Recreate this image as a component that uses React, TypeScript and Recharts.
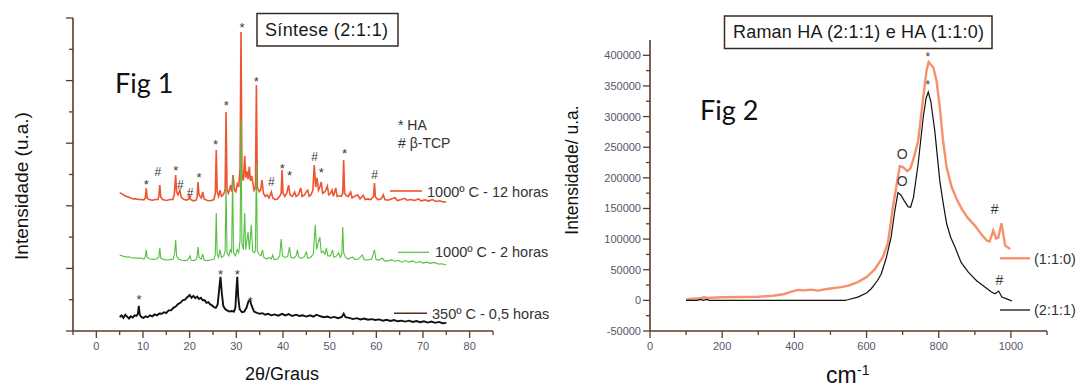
import React from 'react';
import { ComposedChart, Line, XAxis, YAxis, ReferenceDot } from 'recharts';

const FONT = '"Liberation Sans", Arial, Helvetica, sans-serif';
const FIGFONT = 'Lato, "Open Sans", sans-serif';
const AXIS = '#5e3a2c';
const TICKTXT = '#55556a';
const RED = '#f0532f';
const GREEN = '#55c040';
const BLACK = '#111111';
const ORANGE = '#f7906c';

// ---------- Fig 1 : XRD (2θ / graus vs intensity, offset traces) ----------
const xrd350: [number, number][] = [
  [5.0, 0.45], [5.4, 0.5], [5.8, 0.42], [6.2, 0.52], [6.6, 0.46], [7.0, 0.4], [7.4, 0.47], [7.8, 0.43],
  [8.2, 0.5], [8.6, 0.48], [8.9, 0.55], [9.1, 0.8], [9.3, 0.52], [9.7, 0.44], [10.1, 0.42], [10.6, 0.47],
  [11.0, 0.44], [11.5, 0.5], [12.0, 0.47], [12.5, 0.53], [13.0, 0.5], [13.5, 0.56], [14.0, 0.55], [14.5, 0.6],
  [15.0, 0.58], [15.5, 0.66], [16.0, 0.66], [16.5, 0.74], [17.0, 0.78], [17.5, 0.86], [18.0, 0.9], [18.5, 0.98],
  [19.0, 1.0], [19.5, 1.08], [20.0, 1.15], [20.4, 1.06], [20.8, 1.12], [21.2, 1.05], [21.6, 1.1], [22.0, 1.02],
  [22.4, 1.06], [22.8, 0.98], [23.2, 0.99], [23.6, 0.9], [24.0, 0.92], [24.4, 0.85], [24.8, 0.82], [25.2, 0.76],
  [25.6, 0.74], [26.0, 0.85], [26.3, 1.3], [26.6, 1.73], [26.9, 1.2], [27.2, 0.8], [27.6, 0.7], [28.0, 0.66],
  [28.5, 0.62], [29.0, 0.64], [29.5, 0.62], [29.8, 0.75], [30.0, 1.3], [30.2, 1.73], [30.4, 1.1], [30.7, 0.7],
  [31.2, 0.6], [31.7, 0.62], [32.2, 0.75], [32.6, 0.95], [32.9, 0.99], [33.3, 0.8], [33.8, 0.62], [34.4, 0.58],
  [35.0, 0.55], [35.6, 0.57], [36.2, 0.52], [36.8, 0.55], [37.5, 0.5], [38.2, 0.53], [39.0, 0.49], [39.8, 0.55],
  [40.5, 0.5], [41.2, 0.54], [42.0, 0.48], [42.8, 0.52], [43.5, 0.48], [44.2, 0.5], [45.0, 0.46], [45.8, 0.5],
  [46.5, 0.46], [47.2, 0.52], [48.0, 0.47], [48.8, 0.44], [49.5, 0.46], [50.2, 0.42], [51.0, 0.45], [51.8, 0.41],
  [52.6, 0.45], [53.0, 0.55], [53.4, 0.44], [54.2, 0.42], [55.0, 0.38], [55.8, 0.41], [56.6, 0.37], [57.4, 0.4],
  [58.2, 0.36], [59.0, 0.38], [59.8, 0.35], [60.6, 0.37], [61.4, 0.33], [62.2, 0.36], [63.0, 0.32], [63.8, 0.35],
  [64.6, 0.31], [65.4, 0.33], [66.2, 0.3], [67.0, 0.33], [67.8, 0.29], [68.6, 0.32], [69.4, 0.28], [70.2, 0.31],
  [71.0, 0.27], [71.8, 0.3], [72.6, 0.26], [73.4, 0.29], [74.2, 0.25], [75.0, 0.26],
];

const xrd1000h2: [number, number][] = [
  [5.0, 2.43], [5.5, 2.4], [6.0, 2.38], [6.5, 2.36], [7.0, 2.37], [7.5, 2.34], [8.0, 2.33], [8.5, 2.34],
  [9.0, 2.32], [9.5, 2.33], [10.2, 2.3], [10.5, 2.38], [10.7, 2.59], [10.9, 2.35], [11.5, 2.3], [12.2, 2.29],
  [12.8, 2.3], [13.4, 2.36], [13.6, 2.65], [13.8, 2.33], [14.5, 2.28], [15.2, 2.27], [15.8, 2.28], [16.5, 2.3],
  [16.8, 2.5], [17.0, 2.91], [17.2, 2.4], [17.6, 2.3], [18.3, 2.26], [19.0, 2.25], [19.6, 2.27], [20.1, 2.4],
  [20.3, 2.26], [21.0, 2.25], [21.5, 2.3], [21.8, 2.68], [22.0, 2.35], [22.5, 2.3], [22.8, 2.46], [23.1, 2.27],
  [23.8, 2.25], [24.5, 2.27], [25.2, 2.3], [25.5, 2.45], [25.7, 3.77], [25.9, 2.45], [26.2, 2.35], [26.5, 2.6],
  [26.8, 2.35], [27.3, 2.4], [27.6, 2.55], [27.8, 4.6], [28.0, 2.5], [28.4, 2.4], [28.7, 2.6], [29.0, 2.5],
  [29.2, 4.98], [29.4, 2.5], [29.8, 2.4], [30.2, 2.6], [30.5, 2.5], [30.8, 2.9], [31.0, 6.8], [31.2, 2.8],
  [31.5, 2.6], [31.8, 3.77], [32.0, 2.6], [32.5, 3.16], [32.8, 2.6], [33.2, 3.39], [33.5, 2.55], [33.9, 2.5],
  [34.1, 2.6], [34.3, 5.37], [34.5, 2.55], [34.9, 2.45], [35.3, 2.4], [35.6, 2.59], [35.9, 2.35], [36.5, 2.3],
  [37.0, 2.35], [37.5, 2.3], [37.8, 2.43], [38.1, 2.28], [38.8, 2.3], [39.3, 2.4], [39.6, 2.94], [39.9, 2.4],
  [40.4, 2.35], [41.0, 2.38], [41.4, 2.68], [41.7, 2.35], [42.3, 2.33], [42.8, 2.4], [43.1, 2.59], [43.4, 2.35],
  [44.0, 2.32], [44.6, 2.38], [45.0, 2.52], [45.3, 2.33], [45.9, 2.35], [46.5, 2.45], [46.9, 3.39], [47.2, 2.6],
  [47.5, 2.8], [47.9, 3.0], [48.2, 2.5], [48.6, 2.55], [49.0, 2.45], [49.3, 2.65], [49.6, 2.4], [50.2, 2.4],
  [50.6, 2.59], [50.9, 2.35], [51.5, 2.4], [51.9, 2.5], [52.3, 2.35], [52.6, 2.45], [52.8, 3.32], [53.0, 2.5],
  [53.4, 2.35], [54.0, 2.3], [54.6, 2.35], [55.0, 2.36], [55.4, 2.28], [56.2, 2.3], [57.0, 2.43], [57.4, 2.28],
  [58.2, 2.27], [59.0, 2.3], [59.6, 2.59], [59.9, 2.3], [60.5, 2.26], [61.3, 2.33], [61.7, 2.24], [62.5, 2.24],
  [63.3, 2.28], [64.0, 2.22], [64.7, 2.26], [65.4, 2.2], [66.2, 2.25], [67.0, 2.2], [67.8, 2.24], [68.5, 2.18],
  [69.3, 2.22], [70.0, 2.17], [70.8, 2.2], [71.6, 2.16], [72.4, 2.19], [73.2, 2.14], [74.0, 2.15], [75.0, 2.11],
];

const xrd1000h12: [number, number][] = [
  [5.0, 4.42], [5.5, 4.38], [6.0, 4.33], [6.5, 4.3], [7.0, 4.27], [7.5, 4.24], [8.0, 4.22], [8.5, 4.22],
  [9.0, 4.2], [9.5, 4.2], [10.2, 4.19], [10.5, 4.25], [10.7, 4.57], [10.9, 4.24], [11.3, 4.2], [12.0, 4.18],
  [12.6, 4.2], [13.2, 4.2], [13.4, 4.3], [13.6, 4.66], [13.8, 4.28], [14.2, 4.2], [15.0, 4.17], [15.8, 4.2],
  [16.4, 4.2], [16.7, 4.35], [17.0, 4.98], [17.2, 4.45], [17.5, 4.35], [17.9, 4.5], [18.2, 4.27], [18.8, 4.2],
  [19.4, 4.18], [19.8, 4.22], [20.0, 4.31], [20.2, 4.2], [20.8, 4.16], [21.4, 4.18], [21.6, 4.3], [21.8, 4.76],
  [22.0, 4.35], [22.5, 4.25], [22.8, 4.44], [23.1, 4.22], [23.8, 4.17], [24.5, 4.16], [25.2, 4.2], [25.5, 4.4],
  [25.7, 5.78], [25.9, 4.45], [26.2, 4.3], [26.5, 4.5], [26.8, 4.3], [27.2, 4.35], [27.6, 4.5], [27.8, 7.0],
  [28.0, 4.5], [28.3, 4.4], [28.8, 4.66], [29.0, 4.45], [29.3, 4.98], [29.6, 4.5], [29.9, 4.45], [30.2, 4.7],
  [30.5, 4.6], [30.8, 5.2], [31.0, 9.55], [31.2, 5.0], [31.5, 4.8], [31.8, 5.6], [32.0, 4.9], [32.3, 5.1],
  [32.5, 4.85], [32.8, 5.25], [33.0, 4.8], [33.3, 4.95], [33.8, 4.5], [34.1, 4.6], [34.3, 7.86], [34.5, 4.6],
  [34.9, 4.45], [35.2, 4.5], [35.5, 4.82], [35.8, 4.4], [36.2, 4.3], [36.6, 4.35], [37.0, 4.25], [37.5, 4.44],
  [37.8, 4.25], [38.3, 4.2], [38.8, 4.22], [39.3, 4.3], [39.6, 4.4], [39.8, 5.14], [40.0, 4.4], [40.4, 4.3],
  [40.8, 4.4], [41.2, 4.66], [41.5, 4.35], [42.0, 4.3], [42.5, 4.44], [42.8, 4.3], [43.3, 4.35], [43.8, 4.57],
  [44.1, 4.3], [44.6, 4.35], [45.0, 4.45], [45.3, 4.5], [45.6, 4.3], [46.0, 4.35], [46.4, 4.5], [46.7, 5.3],
  [47.0, 4.6], [47.3, 4.89], [47.6, 4.5], [47.9, 4.6], [48.2, 4.76], [48.5, 4.4], [49.0, 4.45], [49.5, 4.63],
  [49.8, 4.35], [50.2, 4.4], [50.5, 4.5], [50.8, 4.3], [51.3, 4.57], [51.6, 4.3], [52.0, 4.32], [52.5, 4.3],
  [52.8, 4.4], [53.0, 5.46], [53.2, 4.4], [53.6, 4.32], [54.0, 4.3], [54.5, 4.44], [54.8, 4.25], [55.3, 4.3],
  [56.0, 4.35], [56.5, 4.22], [57.2, 4.33], [57.6, 4.2], [58.2, 4.22], [58.8, 4.2], [59.4, 4.3], [59.6, 4.73],
  [59.8, 4.28], [60.3, 4.2], [61.0, 4.22], [61.5, 4.35], [61.8, 4.2], [62.5, 4.18], [63.2, 4.22], [64.0, 4.26],
  [64.5, 4.17], [65.3, 4.2], [66.0, 4.24], [66.6, 4.18], [67.4, 4.2], [68.2, 4.17], [69.0, 4.22], [69.6, 4.16],
  [70.4, 4.19], [71.2, 4.15], [72.0, 4.2], [72.8, 4.14], [73.6, 4.16], [74.3, 4.12], [75.0, 4.12],
];

// phase marks: * = HA, # = β-TCP  (x in 2θ, y = visual centre in intensity units)
const xrdMarks: { x: number; y: number; s: string }[] = [
  { x: 10.7, y: 4.77, s: '*' }, { x: 13.2, y: 5.09, s: '#' }, { x: 17.0, y: 5.2, s: '*' },
  { x: 18.0, y: 4.66, s: '#' }, { x: 20.1, y: 4.42, s: '#' }, { x: 22.0, y: 4.98, s: '*' },
  { x: 25.56, y: 6.05, s: '*' }, { x: 27.86, y: 7.29, s: '*' }, { x: 31.2, y: 9.78, s: '*' },
  { x: 34.28, y: 8.04, s: '*' }, { x: 37.5, y: 4.77, s: '#' }, { x: 39.85, y: 5.27, s: '*' },
  { x: 41.42, y: 5.04, s: '*' }, { x: 46.78, y: 5.57, s: '#' }, { x: 48.2, y: 5.14, s: '*' },
  { x: 53.2, y: 5.76, s: '*' }, { x: 59.63, y: 4.98, s: '#' },
  { x: 9.13, y: 1.1, s: '*' }, { x: 26.63, y: 1.89, s: '*' }, { x: 30.21, y: 1.89, s: '*' },
  { x: 33.0, y: 1.04, s: '*' },
];

const xrdXTicks = [-5, 0, 5, 10, 15, 20, 25, 30, 35, 40, 45, 50, 55, 60, 65, 70, 75, 80, 85];
const xrdYTicks = [0, 1, 2, 3, 4, 5, 6, 7, 8, 9, 10];

// ---------- Fig 2 : Raman ----------
const raman110: [number, number][] = [
  [100, 1000], [110, 2500], [140, 3500], [150, 5000], [160, 4000], [200, 5000], [250, 5500], [300, 6000],
  [340, 7500], [370, 10000], [390, 14000], [410, 17000], [427, 16300], [445, 17500], [465, 16000], [490, 18500],
  [529, 21700], [550, 24000], [576, 29800], [600, 38000], [622, 50000], [645, 70500], [659, 92800], [673, 152000],
  [692, 219000], [700, 218000], [713, 211000], [722, 216000], [732, 235000], [743, 260600], [757, 331000],
  [766, 374600], [772, 389000], [785, 380000], [794, 358000], [803, 315000], [812, 260600], [822, 217000],
  [836, 184500], [850, 165000], [864, 149000], [880, 135000], [900, 122000], [918, 108000], [933, 97700],
  [941, 96000], [951, 114000], [959, 101000], [965, 102000], [974, 126000], [984, 89600], [998, 84000],
];

const raman211: [number, number][] = [
  [100, 0], [130, 0], [140, 1500], [148, 0], [156, 1500], [165, 0], [300, 0], [540, 0], [548, 1000],
  [576, 5400], [600, 12000], [613, 19000], [630, 32000], [641, 43500], [655, 70000], [668, 103000],
  [678, 145000], [687, 176000], [695, 172000], [705, 162000], [715, 153000], [722, 152000], [730, 168000],
  [743, 223000], [757, 298500], [765, 330000], [771, 340000], [778, 325000], [789, 277000], [803, 195000],
  [812, 160000], [822, 125000], [833, 103000], [845, 87000], [862, 62000], [882, 46000], [905, 32000],
  [928, 21700], [945, 14000], [956, 10900], [966, 15200], [975, 5400], [990, 2000], [1003, -1000],
];

// * = HA, O = other phase, # = β-TCP
const ramanMarks: { x: number; y: number; s: string }[] = [
  { x: 770, y: 402000, s: '*' }, { x: 770, y: 355000, s: '*' },
  { x: 699, y: 239000, s: 'O' }, { x: 699, y: 195000, s: 'O' },
  { x: 955, y: 149000, s: '#' }, { x: 968, y: 32600, s: '#' },
];

const ramanXTicks = [0, 100, 200, 300, 400, 500, 600, 700, 800, 900, 1000, 1100];
const ramanYTicks = [-50000, -25000, 0, 25000, 50000, 75000, 100000, 125000, 150000, 175000, 200000,
  225000, 250000, 275000, 300000, 325000, 350000, 375000, 400000];

const pts = (a: [number, number][]) => a.map(([x, y]) => ({ x, y }));

const markDy = (s: string, fs: number) => (s === '*' ? fs * 0.55 : fs * 0.36);

const makeXTick = (isMajor: (v: number) => boolean, hasLabel: (v: number) => boolean) => (props: any) => {
  const { x, y, payload } = props;
  const v = payload.value;
  const major = isMajor(v);
  return (
    <g>
      <line x1={x} y1={y} x2={x} y2={y + (major ? 7 : 4)} stroke={AXIS} strokeWidth={1.3} />
      {hasLabel(v) && (
        <text x={x} y={y + 19} textAnchor="middle" fontFamily={FONT} fontSize={11} fill={TICKTXT}>
          {v}
        </text>
      )}
    </g>
  );
};

const makeYTick = (isMajor: (v: number) => boolean, hasLabel: (v: number) => boolean) => (props: any) => {
  const { x, y, payload } = props;
  const v = payload.value;
  const major = isMajor(v);
  return (
    <g>
      <line x1={x} y1={y} x2={x - (major ? 7 : 4)} y2={y} stroke={AXIS} strokeWidth={1.3} />
      {hasLabel(v) && (
        <text x={x - 9} y={y + 4} textAnchor="end" fontFamily={FONT} fontSize={11} fill={TICKTXT}>
          {v}
        </text>
      )}
    </g>
  );
};

const XTick1 = makeXTick((v) => v % 10 === 0, (v) => v % 10 === 0 && v >= 0 && v <= 80);
const YTick1 = makeYTick((v) => v % 2 === 0, () => false);
const XTick2 = makeXTick((v) => v % 200 === 0, (v) => v % 200 === 0 && v <= 1000);
const YTick2 = makeYTick((v) => v % 50000 === 0, (v) => v % 50000 === 0);

export default function App() {
  return (
    <div style={{ position: 'absolute', left: 0, top: 0, width: 1077, height: 387, background: '#fff', overflow: 'hidden' }}>
      <div style={{ position: 'absolute', left: 0, top: 0 }}>
        <ComposedChart width={560} height={387} margin={{ top: 18, right: 67, bottom: 16, left: 53 }}>
          <XAxis
            type="number"
            dataKey="x"
            domain={[-5, 85]}
            ticks={xrdXTicks}
            interval={0}
            allowDataOverflow
            height={40}
            tickSize={0}
            tickMargin={0}
            tickLine={false}
            axisLine={{ stroke: AXIS, strokeWidth: 1.6 }}
            tick={XTick1}
          />
          <YAxis
            type="number"
            dataKey="y"
            domain={[0, 10]}
            ticks={xrdYTicks}
            interval={0}
            allowDataOverflow
            width={20}
            tickSize={0}
            tickMargin={0}
            tickLine={false}
            axisLine={{ stroke: AXIS, strokeWidth: 1.6 }}
            tick={YTick1}
          />
          <Line data={pts(xrd350)} dataKey="y" type="linear" stroke={BLACK} strokeWidth={1.9} dot={false} isAnimationActive={false} />
          <Line data={pts(xrd1000h12)} dataKey="y" type="linear" stroke={RED} strokeWidth={1.6} dot={false} isAnimationActive={false} />
          <Line data={pts(xrd1000h2)} dataKey="y" type="linear" stroke={GREEN} strokeWidth={1.1} dot={false} isAnimationActive={false} />
          {xrdMarks.map((m, i) => (
            <ReferenceDot
              key={'m1' + i}
              x={m.x}
              y={m.y}
              r={0}
              shape={(p: any) => (
                <text x={p.cx} y={p.cy + markDy(m.s, m.s === '*' ? 13 : 12)} textAnchor="middle" fontFamily={FONT}
                  fontSize={m.s === '*' ? 13 : 12} fill="#3a3a3a">{m.s}</text>
              )}
            />
          ))}
        </ComposedChart>
      </div>
      <div style={{ position: 'absolute', left: 560, top: 0 }}>
        <ComposedChart width={517} height={387} margin={{ top: 40, right: 30, bottom: 16, left: 30 }}>
          <XAxis
            type="number"
            dataKey="x"
            domain={[0, 1100]}
            ticks={ramanXTicks}
            interval={0}
            allowDataOverflow
            height={40}
            tickSize={0}
            tickMargin={0}
            tickLine={false}
            axisLine={{ stroke: AXIS, strokeWidth: 1.6 }}
            tick={XTick2}
          />
          <YAxis
            type="number"
            dataKey="y"
            domain={[-50000, 425000]}
            ticks={ramanYTicks}
            interval={0}
            allowDataOverflow
            width={60}
            tickSize={0}
            tickMargin={0}
            tickLine={false}
            axisLine={{ stroke: AXIS, strokeWidth: 1.6 }}
            tick={YTick2}
          />
          <Line data={pts(raman110)} dataKey="y" type="linear" stroke={ORANGE} strokeWidth={2.4} dot={false} isAnimationActive={false} />
          <Line data={pts(raman211)} dataKey="y" type="linear" stroke={BLACK} strokeWidth={1.2} dot={false} isAnimationActive={false} />
          {ramanMarks.map((m, i) => (
            <ReferenceDot
              key={'m2' + i}
              x={m.x}
              y={m.y}
              r={0}
              shape={(p: any) => (
                <text x={p.cx} y={p.cy + markDy(m.s, m.s === '*' ? 12 : 14)} textAnchor="middle" fontFamily={FONT}
                  fontSize={m.s === '*' ? 12 : 14} fill="#3a3a3a">{m.s}</text>
              )}
            />
          ))}
        </ComposedChart>
      </div>
      <svg width={1077} height={387} style={{ position: 'absolute', left: 0, top: 0, pointerEvents: 'none' }}>
        {/* Fig 1 annotations */}
        <rect x={257} y={13.5} width={141} height={32.5} fill="#fff" stroke="#3a2a24" strokeWidth={1.5} />
        <text x={265} y={36} fontFamily={FONT} fontSize={18} fill="#1a1a1a" textLength={123} lengthAdjust="spacing">Síntese (2:1:1)</text>
        <text x={115} y={93} fontFamily={FIGFONT} fontSize={27} fill="#111">Fig 1</text>
        <text x={398} y={130} fontFamily={FONT} fontSize={14} fill="#333">* HA</text>
        <text x={398} y={148} fontFamily={FONT} fontSize={14} fill="#333"># β-TCP</text>
        <line x1={390} y1={191} x2={422} y2={191} stroke={RED} strokeWidth={1.6} />
        <text x={427} y={196.5} fontFamily={FONT} fontSize={14.5} fill="#333">1000º C - 12 horas</text>
        <line x1={398} y1={252.3} x2={429} y2={252.3} stroke={GREEN} strokeWidth={1.2} />
        <text x={435} y={257} fontFamily={FONT} fontSize={14.5} fill="#333">1000º C - 2 horas</text>
        <line x1={394} y1={313.3} x2={427} y2={313.3} stroke="#5a2a1c" strokeWidth={1.6} />
        <text x={432} y={318.5} fontFamily={FONT} fontSize={14.5} fill="#333">350º C - 0,5 horas</text>
        <text x={282} y={380} textAnchor="middle" fontFamily={FONT} fontSize={18} fill="#111">2θ/Graus</text>
        <text transform="translate(28,186) rotate(-90)" textAnchor="middle" fontFamily={FONT} fontSize={19} fill="#111">Intensidade (u.a.)</text>

        {/* Fig 2 annotations */}
        <rect x={724.5} y={16} width={267.5} height={32.5} fill="#fff" stroke="#3a2a24" strokeWidth={1.5} />
        <text x={733} y={38} fontFamily={FONT} fontSize={18} fill="#1a1a1a" textLength={251} lengthAdjust="spacing">Raman HA (2:1:1) e HA (1:1:0)</text>
        <text x={700} y={120} fontFamily={FIGFONT} fontSize={27} fill="#111">Fig 2</text>
        <line x1={1000} y1={258.3} x2={1030} y2={258.3} stroke={ORANGE} strokeWidth={2.4} />
        <text x={1034} y={263.5} fontFamily={FONT} fontSize={14.5} fill="#333">(1:1:0)</text>
        <line x1={1000} y1={310} x2={1030} y2={310} stroke={BLACK} strokeWidth={1.3} />
        <text x={1034} y={315} fontFamily={FONT} fontSize={14.5} fill="#333">(2:1:1)</text>
        <text transform="translate(578,170) rotate(-90)" textAnchor="middle" fontFamily={FONT} fontSize={17.5} fill="#111">Intensidade/ u.a.</text>
        <text x={826} y={383} fontFamily={FONT} fontSize={23} fill="#111">cm</text>
        <text x={857} y={375} fontFamily={FONT} fontSize={14} fill="#111">-1</text>
      </svg>
    </div>
  );
}
